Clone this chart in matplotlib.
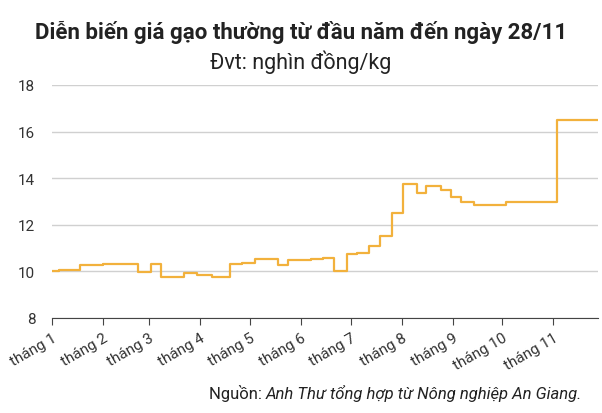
import matplotlib
matplotlib.use("Agg")
import matplotlib.pyplot as plt

plt.rcParams['font.family'] = ['Roboto', 'DejaVu Sans']

days = [0, 4, 17, 31, 52, 60, 66, 80, 88, 97, 108, 115, 123, 130, 137, 143, 157, 164, 171,
        179, 185, 192, 199, 206, 213, 221, 227, 236, 242, 248, 256, 275, 306, 331]
prices = [10.0, 10.05, 10.27, 10.33, 9.97, 10.33, 9.75, 9.92, 9.85, 9.77, 10.33, 10.38, 10.55,
          10.52, 10.27, 10.48, 10.52, 10.58, 10.0, 10.75, 10.8, 11.1, 11.5, 12.5, 13.75, 13.35,
          13.65, 13.5, 13.2, 13.0, 12.85, 13.0, 16.5, 16.5]
month_days = [0, 31, 59, 90, 120, 151, 181, 212, 243, 273, 304]
month_labels = ["tháng 1", "tháng 2", "tháng 3", "tháng 4", "tháng 5", "tháng 6",
                "tháng 7", "tháng 8", "tháng 9", "tháng 10", "tháng 11"]

fig = plt.figure(figsize=(6.02, 4.14), dpi=100)
ax = fig.add_axes([52/602, 1-319/414, 546/602, 233/414])
ax.plot(days, prices, drawstyle='steps-post', color='#F2B13C', lw=1.6)
ax.set_xlim(0, 331)
ax.set_ylim(8, 18)
ax.set_yticks([8, 10, 12, 14, 16, 18])
ax.set_xticks(month_days)
ax.set_xticklabels(month_labels, rotation=30, ha='right', rotation_mode='anchor', fontsize=11, color='#333')
ax.tick_params(axis='y', length=0, labelsize=11, colors='#333', pad=12)
ax.tick_params(axis='x', length=5, color='#444', pad=4)
ax.grid(axis='y', color='#d0d0d0', lw=1)
ax.set_axisbelow(True)
for s in ['top', 'right', 'left']:
    ax.spines[s].set_visible(False)
ax.spines['bottom'].set_color('#444')

fig.text(0.5, 1-32/414, "Diễn biến giá gạo thường từ đầu năm đến ngày 28/11",
         ha='center', va='center', fontsize=16, fontweight='bold', color='#222')
fig.text(0.5, 1-62/414, "Đvt: nghìn đồng/kg", ha='center', va='center', fontsize=15.5, color='#222')
t1 = fig.text(209/602, 1-394/414, "Nguồn: ", ha='left', va='center', fontsize=12, color='#222')
fig.canvas.draw()
bb = t1.get_window_extent()
fig.text(bb.x1/602, 1-394/414, "Anh Thư tổng hợp từ Nông nghiệp An Giang.",
         ha='left', va='center', fontsize=12, color='#222', style='italic')
fig.savefig("out.png", dpi=100)
